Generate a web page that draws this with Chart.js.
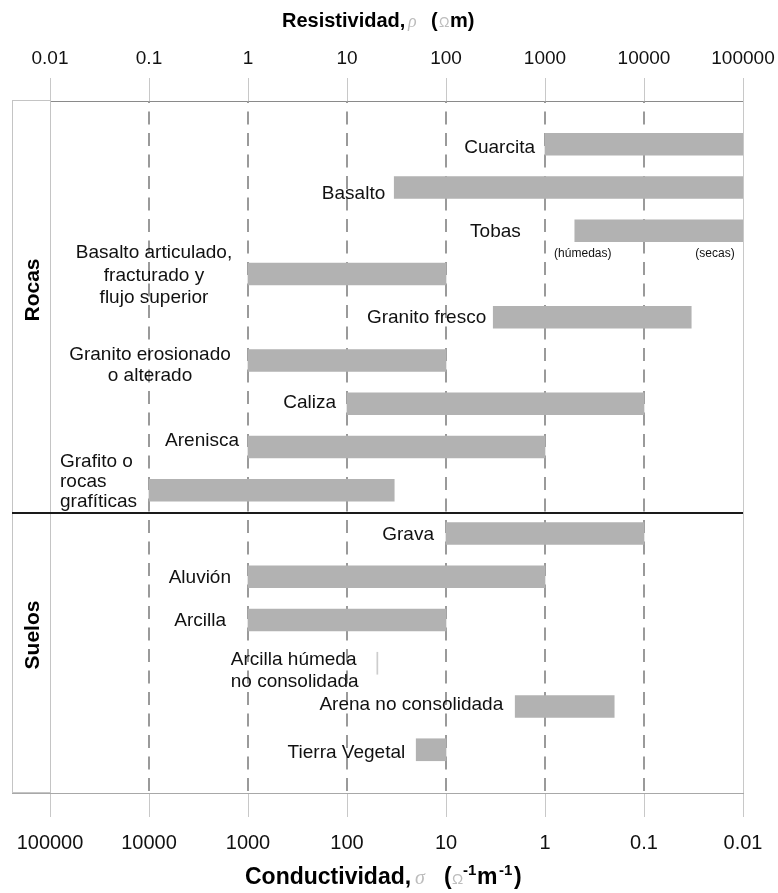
<!DOCTYPE html>
<html>
<head>
<meta charset="utf-8">
<script src="https://cdn.jsdelivr.net/npm/chart.js@4.4.1/dist/chart.umd.min.js"></script>
<style>
  html, body { margin: 0; background: #fff; }
  #wrap { width: 778px; height: 893px; }
</style>
</head>
<body>
<div id="wrap"><canvas id="chart" width="778" height="893"></canvas></div>
<script>
// rows, top to bottom (9 rocas, then 6 suelos)
const LABEL_LINES = [
  ['Cuarcita'],
  ['Basalto'],
  ['Tobas'],
  ['Basalto articulado,', 'fracturado y', 'flujo superior'],
  ['Granito fresco'],
  ['Granito erosionado', 'o alterado'],
  ['Caliza'],
  ['Arenisca'],
  ['Grafito o', 'rocas', 'grafíticas'],
  ['Grava'],
  ['Aluvión'],
  ['Arcilla'],
  ['Arcilla húmeda', 'no consolidada'],
  ['Arena no consolidada'],
  ['Tierra Vegetal'],
];
// resistivity range, ohm·m
const RES_MIN = [1000, 30, 2000, 1, 300, 1, 10, 1, 0.1, 100, 1, 1, 20, 500, 50];
const RES_MAX = [100000, 100000, 100000, 100, 30000, 100, 10000, 1000, 30, 10000, 1000, 100, 20.5, 5000, 100];
const GROUPS = ['Rocas', 'Suelos'];
const GROUP_SIZE = [9, 6];
const TOBAS_NOTES = ['(húmedas)', '(secas)'];
const RES_TICKS = [0.01, 0.1, 1, 10, 100, 1000, 10000, 100000];
const RES_TICK_LABELS = ['0.01', '0.1', '1', '10', '100', '1000', '10000', '100000'];
const COND_TICK_LABELS = ['100000', '10000', '1000', '100', '10', '1', '0.1', '0.01'];

const SANS = '"Liberation Sans", Arial, sans-serif';
const BAR = '#b2b2b2';

// where each label sits relative to its bar start (px), baselines relative to bar centre
const LABEL_POS = [
  { align: 'right', dx: -10, dy: [9] },
  { align: 'right', dx: -9, dy: [11] },
  { align: 'right', dx: -54, dy: [6] },
  { align: 'center', dx: -94, dy: [-16, 7, 29] },
  { align: 'right', dx: -7, dy: [6] },
  { align: 'center', dx: -98, dy: [-1, 20] },
  { align: 'right', dx: -11, dy: [4] },
  { align: 'right', dx: -9, dy: [-1] },
  { align: 'left', dx: -89, dy: [-23, -3, 17] },
  { align: 'right', dx: -12, dy: [6] },
  { align: 'right', dx: -17, dy: [6] },
  { align: 'right', dx: -22, dy: [6] },
  { align: 'left', dx: -146, dy: [2, 24] },
  { align: 'right', dx: -12, dy: [3] },
  { align: 'right', dx: -11, dy: [8] },
];

function drawRuns(ctx, y, runs) {
  runs.forEach(r => {
    ctx.font = r.font;
    ctx.fillStyle = r.color || '#000';
    ctx.fillText(r.text, r.x, y + (r.rise || 0));
  });
}

const decor = {
  id: 'decor',
  beforeDatasetsDraw(chart) {
    const { ctx, chartArea: a, scales: { x } } = chart;
    ctx.save();
    RES_TICKS.forEach((v, i) => {
      const px = Math.round(x.getPixelForValue(v));
      const edge = i === 0 || i === RES_TICKS.length - 1;
      ctx.beginPath();
      if (edge) {
        ctx.strokeStyle = '#c8c8c8';
        ctx.lineWidth = 1;
        ctx.setLineDash([]);
        ctx.moveTo(px + 0.5, a.top);
        ctx.lineTo(px + 0.5, a.bottom);
      } else {
        ctx.strokeStyle = '#9a9a9a';
        ctx.lineWidth = 2;
        ctx.setLineDash([13, 8.5]);
        ctx.lineDashOffset = 11;
        ctx.moveTo(px, a.top);
        ctx.lineTo(px, a.bottom);
      }
      ctx.stroke();
    });
    ctx.restore();
  },
  afterDatasetsDraw(chart) {
    const { ctx, chartArea: a, scales: { x, y } } = chart;
    ctx.save();

    // left group box
    ctx.strokeStyle = '#c4c4c4';
    ctx.lineWidth = 1;
    ctx.strokeRect(12.5, a.top - 0.5, a.left - 12, a.bottom - a.top);
    ctx.beginPath();
    ctx.strokeStyle = '#a8a8a8';
    ctx.moveTo(12, a.bottom + 0.5);
    ctx.lineTo(a.left, a.bottom + 0.5);
    ctx.stroke();

    // rocas / suelos divider
    const split = GROUP_SIZE[0];
    const yd = Math.round((y.getPixelForValue(split) + y.getPixelForValue(split + 1)) / 2 + 1.5);
    ctx.beginPath();
    ctx.strokeStyle = '#1a1a1a';
    ctx.lineWidth = 2;
    ctx.moveTo(12, yd);
    ctx.lineTo(a.right, yd);
    ctx.stroke();

    // group names
    ctx.fillStyle = '#000';
    ctx.font = 'bold 21px ' + SANS;
    ctx.textAlign = 'center';
    ctx.textBaseline = 'middle';
    [[GROUPS[0], 290], [GROUPS[1], 635]].forEach(([t, cy]) => {
      ctx.save();
      ctx.translate(33, cy);
      ctx.rotate(-Math.PI / 2);
      ctx.fillText(t, 0, 0);
      ctx.restore();
    });

    // bar labels
    ctx.textBaseline = 'alphabetic';
    ctx.font = '19px ' + SANS;
    ctx.fillStyle = '#111';
    LABEL_LINES.forEach((lines, i) => {
      const cy = y.getPixelForValue(i + 1);
      const sx = x.getPixelForValue(RES_MIN[i]);
      const p = LABEL_POS[i];
      ctx.textAlign = p.align;
      lines.forEach((ln, j) => ctx.fillText(ln, sx + p.dx, cy + p.dy[j]));
    });

    // tobas notes
    const ty = y.getPixelForValue(3) + 26;
    ctx.font = '12px ' + SANS;
    ctx.textAlign = 'center';
    ctx.fillText(TOBAS_NOTES[0], x.getPixelForValue(RES_MIN[2]) + 8, ty);
    ctx.fillText(TOBAS_NOTES[1], x.getPixelForValue(RES_MAX[2]) - 28, ty);
    ctx.restore();
  },
  afterDraw(chart) {
    const ctx = chart.ctx;
    ctx.save();
    ctx.textAlign = 'left';
    ctx.textBaseline = 'alphabetic';
    const b20 = 'bold 20px ' + SANS;
    drawRuns(ctx, 27, [
      { text: 'Resistividad,', x: 282, font: b20 },
      { text: 'ρ', x: 408, font: 'italic 18px "Liberation Serif", serif', color: '#bdbdbd' },
      { text: '(', x: 431, font: b20 },
      { text: 'Ω', x: 439, font: '14px ' + SANS, color: '#bdbdbd' },
      { text: 'm)', x: 450, font: b20 },
    ]);
    const b23 = 'bold 23px ' + SANS;
    const sup = 'bold 15px ' + SANS;
    drawRuns(ctx, 884, [
      { text: 'Conductividad,', x: 245, font: b23 },
      { text: 'σ', x: 415, font: 'italic 20px "Liberation Serif", serif', color: '#bdbdbd' },
      { text: '(', x: 444, font: b23 },
      { text: 'Ω', x: 452, font: '15px ' + SANS, color: '#bdbdbd' },
      { text: '-1', x: 463, font: sup, rise: -9 },
      { text: 'm', x: 477, font: b23 },
      { text: '-1', x: 499, font: sup, rise: -9 },
      { text: ')', x: 514, font: b23 },
    ]);
    ctx.restore();
  },
};

const decadeTicks = s => { s.ticks = RES_TICKS.map(v => ({ value: v })); };
const fixHeight = h => s => { s.height = h; s.paddingLeft = 0; s.paddingRight = 0; };

new Chart(document.getElementById('chart'), {
  type: 'bar',
  data: {
    datasets: [{
      data: LABEL_LINES.map((l, i) => ({ y: i + 1, x: [RES_MIN[i], RES_MAX[i]] })),
      backgroundColor: LABEL_LINES.map((l, i) => (RES_MAX[i] / RES_MIN[i] < 1.1 ? '#cdcdcd' : BAR)),
      borderWidth: 0,
      barThickness: 22,
      xAxisID: 'x',
      yAxisID: 'y',
    }],
  },
  options: {
    indexAxis: 'y',
    responsive: false,
    animation: false,
    layout: { padding: { left: 50, right: 35, top: 0, bottom: 0 } },
    plugins: { legend: { display: false }, tooltip: { enabled: false } },
    scales: {
      x: {
        type: 'logarithmic',
        position: 'top',
        min: 0.01,
        max: 100000,
        afterBuildTicks: decadeTicks,
        afterFit: fixHeight(101),
        grid: { drawOnChartArea: false, tickLength: 23, color: '#c8c8c8', lineWidth: 1 },
        border: { display: true, color: '#8a8a8a', width: 1 },
        ticks: {
          autoSkip: false, maxRotation: 0, padding: 8, color: '#111',
          font: { family: SANS, size: 19 },
          callback: (v, i) => RES_TICK_LABELS[i],
        },
      },
      x2: {
        type: 'logarithmic',
        position: 'bottom',
        min: 0.01,
        max: 100000,
        afterBuildTicks: decadeTicks,
        afterFit: fixHeight(100),
        grid: { drawOnChartArea: false, tickLength: 24, color: '#c8c8c8', lineWidth: 1 },
        border: { display: true, color: '#a8a8a8', width: 1 },
        ticks: {
          autoSkip: false, maxRotation: 0, padding: 14, color: '#111',
          font: { family: SANS, size: 20 },
          callback: (v, i) => COND_TICK_LABELS[i],
        },
      },
      y: { type: 'linear', min: 0, max: 16, reverse: true, offset: false, grace: 0, display: false },
    },
  },
  plugins: [decor],
});
</script>
</body>
</html>
